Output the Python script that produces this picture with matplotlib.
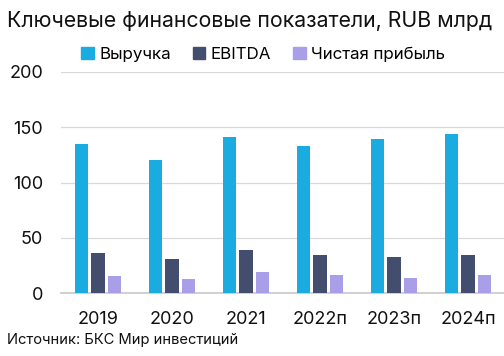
import matplotlib
matplotlib.use("Agg")
import matplotlib.pyplot as plt
import numpy as np
from matplotlib.patches import Patch

years = ["2019", "2020", "2021", "2022п", "2023п", "2024п"]
revenue = [134.6, 120.4, 141.5, 133.0, 139.4, 143.6]
ebitda = [36.1, 30.7, 39.4, 34.9, 32.8, 34.9]
net_profit = [15.9, 13.2, 19.2, 16.5, 14.1, 16.5]
series_names = ["Выручка", "EBITDA", "Чистая прибыль"]
yticks = [0, 50, 100, 150, 200]

colors = ["#1AABE0", "#434E6E", "#A99EE8"]
plt.rcParams['font.family'] = ['Inter', 'DejaVu Sans']

fig = plt.figure(figsize=(5.04, 3.56), dpi=100)
ax = fig.add_axes([61/504, 1-293.3/356, (505-61)/504, (293.3-72)/356])

x = np.arange(len(years))
w = 0.176
off = 0.223
for i, (vals, c) in enumerate(zip([revenue, ebitda, net_profit], colors)):
    ax.bar(x + (i-1)*off, vals, width=w, color=c, zorder=3)

ax.set_xlim(-0.5, 5.5)
ax.set_ylim(0, 200)
ax.set_yticks(yticks)
ax.set_xticks(x)
ax.set_xticklabels(years)
ax.tick_params(axis='both', length=0, labelsize=13, colors='#111111')
ax.tick_params(axis='x', pad=13)
ax.tick_params(axis='y', pad=13)
ax.grid(axis='y', color='#D9D9D9', linewidth=0.9, zorder=0)
ax.set_axisbelow(True)
for s in ['top', 'right', 'left']:
    ax.spines[s].set_visible(False)
ax.spines['bottom'].set_color('#C8C8C8')
ax.spines['bottom'].set_linewidth(1.2)

handles = [Patch(color=c, label=n) for c, n in zip(colors, series_names)]
fig.legend(handles=handles, loc='center', bbox_to_anchor=(263/504, 1-54/356),
           ncol=3, frameon=False, fontsize=12.2, handlelength=0.75, handleheight=0.75,
           handletextpad=0.3, columnspacing=1.3)

fig.text(7/504, 1-21/356, "Ключевые финансовые показатели, RUB млрд",
         fontsize=15.3, va='center', ha='left', color='#111111')
fig.text(7/504, 1-340/356, "Источник: БКС Мир инвестиций",
         fontsize=10.6, va='center', ha='left', color='#111111')

fig.savefig("out.png", dpi=100)
